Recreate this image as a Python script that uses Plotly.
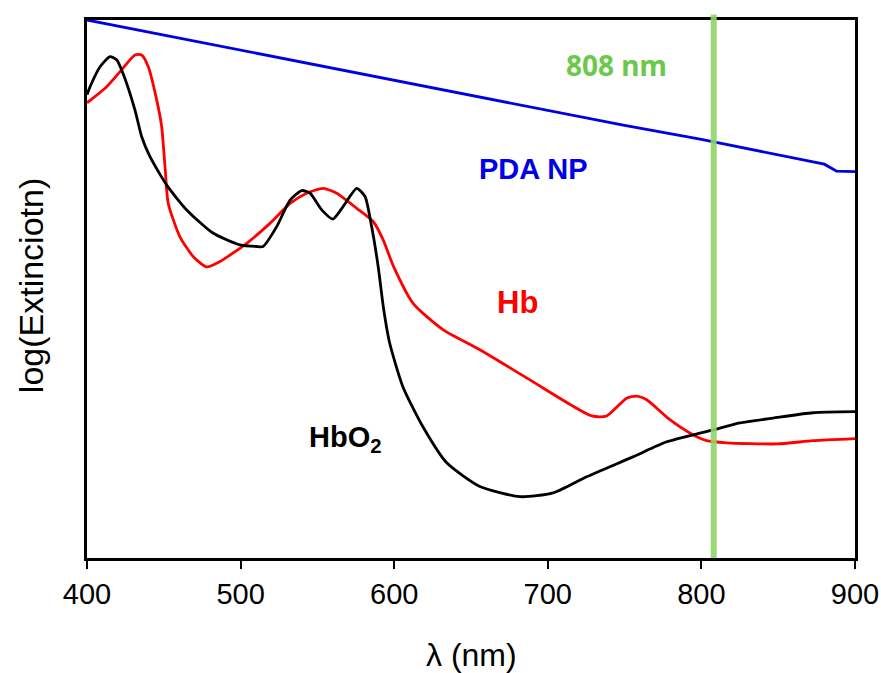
import plotly.graph_objects as go

# HbO2 (black)
hbo2_wl = [400, 402, 408.5, 415, 419.3, 423.4, 431.2, 435.6, 441, 451.9, 464.9, 482, 499.6, 510.5, 514.6,
           523.5, 532.2, 539.8, 545.2, 552.8, 560.1, 566.7, 575.6, 581, 585.3, 589.6, 593, 597, 605.7, 618.7,
           634.2, 655.8, 681.9, 703.4, 725.3, 755.4, 777.4, 799, 807.5, 825.1, 846.6, 872.6, 900]
hbo2_val = [86.1, 87.6, 91.3, 93.2, 92.6, 90.1, 83.3, 78.3, 74.6, 69.3, 64.7, 60.4, 58.2, 57.9, 57.9,
            61.6, 66.5, 68.3, 67.8, 64.7, 63.0, 65.3, 68.7, 67.2, 61.6, 54.1, 46.5, 40.0, 31.8, 24.4,
            17.7, 13.3, 11.4, 12.1, 15.1, 18.8, 21.6, 23.2, 23.8, 25.1, 26.0, 27.0, 27.2]

# Hb (red)
hb_wl = [400, 412.8, 421.5, 431.2, 435.6, 439.9, 445.4, 448.6, 450.8, 452.9, 460.5, 469.2, 477.9, 486.6,
         504, 519.1, 532.2, 543, 553.8, 562.6, 575.6, 586.4, 592.9, 599.4, 612.4, 632, 655.8, 688.4,
         728.6, 738.3, 751.3, 757.8, 764.4, 779.5, 794.5, 803.4, 816.4, 849, 872.6, 900]
hb_val = [84.6, 87.6, 90.4, 93.5, 93.5, 91.3, 85.1, 80.2, 72.7, 65.9, 59.7, 56.0, 54.1, 55.1,
          58.5, 62.2, 65.9, 67.8, 68.7, 67.8, 65.0, 62.5, 59.1, 54.3, 47.3, 42.4, 38.7, 33.1,
          26.4, 26.4, 29.7, 30.1, 29.4, 25.7, 22.9, 21.8, 21.4, 21.2, 21.8, 22.2]

# PDA NP (blue)
pda_wl = [400, 450, 500, 550, 600, 650, 700, 750, 800, 850, 870, 880, 885, 888, 900]
pda_val = [100, 97.2, 94.3, 91.5, 88.7, 85.9, 83.1, 80.4, 77.8, 75.0, 73.9, 73.2, 72.4, 71.9, 71.8]

laser_nm = 808
x_ticks = [400, 500, 600, 700, 800, 900]

fig = go.Figure()
fig.add_trace(go.Scatter(x=pda_wl, y=pda_val, mode="lines", line=dict(color="#0000e6", width=2.8),
                         showlegend=False, hoverinfo="skip"))
fig.add_trace(go.Scatter(x=hb_wl, y=hb_val, mode="lines",
                         line=dict(color="#ff0000", width=2.8, shape="spline", smoothing=0.6),
                         showlegend=False, hoverinfo="skip"))
fig.add_trace(go.Scatter(x=hbo2_wl, y=hbo2_val, mode="lines",
                         line=dict(color="#000000", width=2.8, shape="spline", smoothing=0.6),
                         showlegend=False, hoverinfo="skip"))

fig.add_shape(type="line", xref="x", yref="paper", x0=laser_nm, x1=laser_nm, y0=0, y1=1.01,
              line=dict(color="rgb(143,214,104)", width=6), layer="above", opacity=0.9)

ann = dict(showarrow=False, xref="paper", yref="paper", xanchor="center", yanchor="middle")
fig.add_annotation(x=0.69, y=0.916, text="<b>808 nm</b>",
                   font=dict(family="Noto Sans", size=28, color="#6cc84a"), **ann)
fig.add_annotation(x=0.581, y=0.723, text="<b>PDA NP</b>",
                   font=dict(family="Liberation Sans", size=29, color="#0000e6"), **ann)
fig.add_annotation(x=0.56, y=0.474, text="<b>Hb</b>",
                   font=dict(family="Liberation Sans", size=31, color="#ff0000"), **ann)
fig.add_annotation(x=0.336, y=0.222, text="<b>HbO<sub>2</sub></b>",
                   font=dict(family="Liberation Sans", size=29, color="#000000"), **ann)
# axis titles
fig.add_annotation(x=0.5, y=-0.18, text="λ (nm)",
                   font=dict(family="Liberation Sans", size=32, color="#000000"), **ann)
fig.add_annotation(x=-0.073, y=0.507, text="log(Extinciotn)", textangle=-90,
                   font=dict(family="Liberation Sans", size=34, color="#000000"), **ann)

fig.update_layout(
    width=881, height=673,
    margin=dict(l=87, r=26, t=20, b=115),
    plot_bgcolor="white", paper_bgcolor="white",
    font=dict(family="Liberation Sans", color="black"),
    xaxis=dict(range=[400, 900], tickvals=x_ticks, showline=True, linecolor="black", linewidth=2.5,
               mirror=True, ticks="outside", ticklen=8, tickwidth=2, tickcolor="black",
               showgrid=False, zeroline=False, tickfont=dict(size=29), automargin=False),
    yaxis=dict(range=[0, 100], showline=True, linecolor="black", linewidth=2.5, mirror=True,
               showticklabels=False, ticks="", showgrid=False, zeroline=False, automargin=False),
)

fig.write_html("out.html", config={"displayModeBar": False},
               post_script="document.body.style.margin='0';document.body.style.overflow='hidden';")
